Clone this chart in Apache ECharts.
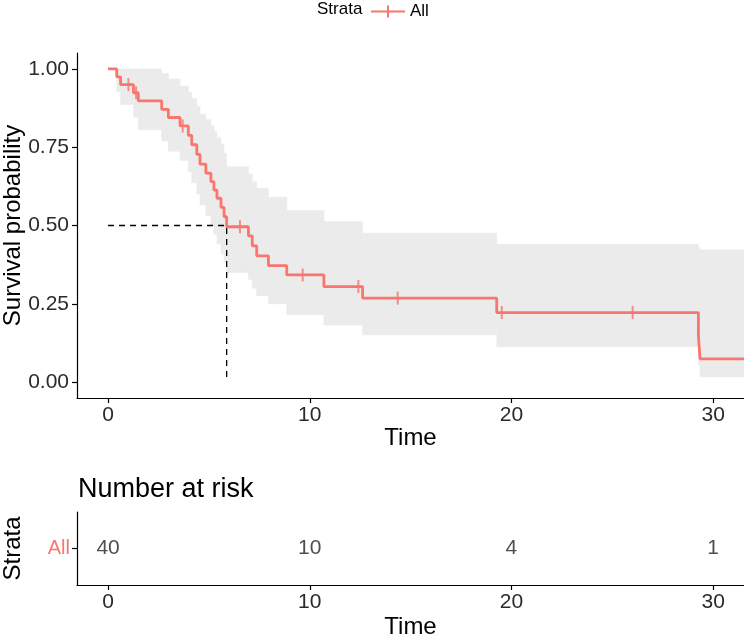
<!DOCTYPE html>
<html>
<head>
<meta http-equiv="Content-Type" content="text/html;charset=utf-8" />
<title>Survival curve</title>
<script src="https://cdn.jsdelivr.net/npm/echarts@6/dist/echarts.min.js"></script>
<style>
  html, body { margin: 0; padding: 0; background: #fff; }
  #chart { width: 744px; height: 637px; }
</style>
</head>
<body>
<div id="chart"></div>
<script>
  // Kaplan-Meier steps
  var times = [0, 0.43, 0.62, 1.26, 1.50, 2.66, 2.99, 3.57, 3.98, 4.15, 4.40, 4.56, 4.85, 5.10, 5.25, 5.40, 5.60, 5.75, 5.88, 6.96, 7.15, 7.37, 7.95, 8.86, 10.70, 12.62, 19.27, 29.27, 29.35, 32.0];
  var surv  = [1, 0.975, 0.950, 0.924, 0.898, 0.871, 0.845, 0.818, 0.788, 0.758, 0.727, 0.696, 0.667, 0.640, 0.613, 0.587, 0.558, 0.528, 0.496, 0.467, 0.435, 0.403, 0.372, 0.342, 0.305, 0.268, 0.222, 0.148, 0.074, 0.074];
  var lower = [1, 0.928, 0.886, 0.846, 0.806, 0.770, 0.737, 0.708, 0.673, 0.637, 0.601, 0.566, 0.531, 0.500, 0.472, 0.441, 0.410, 0.383, 0.350, 0.328, 0.300, 0.276, 0.250, 0.215, 0.182, 0.151, 0.113, 0.055, 0.017, 0.017];
  var upper = [1, 1, 1, 1, 1, 0.985, 0.968, 0.945, 0.925, 0.905, 0.880, 0.855, 0.838, 0.818, 0.800, 0.780, 0.760, 0.730, 0.688, 0.665, 0.640, 0.618, 0.590, 0.548, 0.512, 0.475, 0.440, 0.430, 0.422, 0.422];

  // censored observations
  var censorTimes = [1.01, 1.39, 3.70, 6.54, 9.65, 12.41, 14.36, 19.52, 26.01];
  var censorSurv  = [0.950, 0.924, 0.818, 0.496, 0.342, 0.305, 0.268, 0.222, 0.222];

  // median survival
  var medianTime = 5.88;
  var medianSurv = 0.5;

  // risk table
  var strata = ['All'];
  var riskTimes  = [0, 10, 20, 30];
  var riskCounts = [40, 10, 4, 1];

  var xTicks = [0, 10, 20, 30];
  var yTicks = [0, 0.25, 0.5, 0.75, 1];

  var red = '#F8766D';
  var font = 'Liberation Sans';
  var xMin = -1.54, xMax = 31.53;

  function xAxisFor(gridIndex, gap) {
    return {
      type: 'value', gridIndex: gridIndex, min: xMin, max: xMax,
      name: 'Time', nameLocation: 'middle', nameGap: gap, nameMoveOverlap: false,
      nameTextStyle: { fontFamily: font, fontSize: 24, color: '#000' },
      axisLine: { show: true, onZero: false, lineStyle: { color: '#000', width: 1.2 } },
      axisTick: { show: true, length: 5, customValues: xTicks, lineStyle: { color: '#000', width: 1.2 } },
      axisLabel: { customValues: xTicks, margin: 7, fontFamily: font, fontSize: 21, color: '#2b2b2b' },
      splitLine: { show: false }
    };
  }

  var option = {
    animation: false,
    textStyle: { fontFamily: font },
    title: {
      text: 'Number at risk', left: 73, top: 471,
      textStyle: { fontFamily: font, fontSize: 27, fontWeight: 'normal', color: '#000' }
    },
    legend: {
      data: ['All'], left: 366, top: -2, itemWidth: 34, itemHeight: 12, itemGap: 5,
      icon: 'path://M0,5H34V7H0Z M16,0H18V12H16Z',
      textStyle: { fontFamily: font, fontSize: 17, color: '#000' }
    },
    graphic: [{
      type: 'text', left: 317, top: 1,
      style: { text: 'Strata', fontFamily: font, fontSize: 17, fill: '#000' }
    }],
    grid: [
      { left: 77, right: 0, top: 53, height: 345, outerBoundsMode: 'none' },
      { left: 77, right: 0, top: 512, height: 73, outerBoundsMode: 'none' }
    ],
    xAxis: [xAxisFor(0, 28), xAxisFor(1, 30)],
    yAxis: [{
      type: 'value', gridIndex: 0, min: -0.051, max: 1.051,
      name: 'Survival probability', nameLocation: 'middle', nameGap: 52, nameMoveOverlap: false,
      nameTextStyle: { fontFamily: font, fontSize: 24, color: '#000' },
      axisLine: { show: true, onZero: false, lineStyle: { color: '#000', width: 1.2 } },
      axisTick: { show: true, length: 5, customValues: yTicks, lineStyle: { color: '#000', width: 1.2 } },
      axisLabel: { customValues: yTicks, margin: 8, fontFamily: font, fontSize: 21, color: '#2b2b2b',
        formatter: function (v) { return v.toFixed(2); } },
      splitLine: { show: false }
    }, {
      type: 'category', gridIndex: 1, data: strata,
      name: 'Strata', nameLocation: 'middle', nameGap: 52, nameMoveOverlap: false,
      nameTextStyle: { fontFamily: font, fontSize: 24, color: '#000' },
      axisLine: { show: true, onZero: false, lineStyle: { color: '#000', width: 1.2 } },
      axisTick: { show: true, length: 5, alignWithLabel: true, lineStyle: { color: '#000', width: 1.2 } },
      axisLabel: { margin: 7, fontFamily: font, fontSize: 20, color: red },
      splitLine: { show: false }
    }],
    series: [
      {
        // confidence band, one rectangle per step
        type: 'custom', xAxisIndex: 0, yAxisIndex: 0, z: 1, silent: true, clip: true,
        data: times.slice(0, -1).map(function (t, i) { return [t, times[i + 1], lower[i], upper[i]]; }),
        encode: { x: [0, 1], y: [2, 3] },
        renderItem: function (params, api) {
          var p1 = api.coord([api.value(0), api.value(3)]);
          var p2 = api.coord([api.value(1), api.value(2)]);
          return {
            type: 'rect',
            shape: { x: p1[0], y: p1[1], width: p2[0] - p1[0], height: p2[1] - p1[1] },
            style: { fill: '#EBEBEB', stroke: '#EBEBEB', lineWidth: 0.6 }
          };
        }
      },
      {
        type: 'line', xAxisIndex: 0, yAxisIndex: 0,
        data: [[0, medianSurv], [medianTime, medianSurv], [medianTime, 0]],
        symbol: 'none', z: 2,
        lineStyle: { color: '#000', width: 1.3, type: [6, 5] }
      },
      {
        name: 'All', type: 'line', xAxisIndex: 0, yAxisIndex: 0, step: 'end',
        data: times.map(function (t, i) { return [t, surv[i]]; }),
        symbol: 'none', z: 3, itemStyle: { color: red },
        lineStyle: { color: red, width: 2.8 }
      },
      {
        type: 'scatter', xAxisIndex: 0, yAxisIndex: 0,
        data: censorTimes.map(function (t, i) { return [t, censorSurv[i]]; }),
        symbol: 'rect', symbolSize: [2, 13], z: 4, itemStyle: { color: red }
      },
      {
        type: 'scatter', xAxisIndex: 1, yAxisIndex: 1,
        data: riskTimes.map(function (t, i) { return [t, 0, riskCounts[i]]; }),
        symbolSize: 1, itemStyle: { color: 'rgba(0,0,0,0)' },
        label: { show: true, position: 'inside', fontFamily: font, fontSize: 21, color: '#222',
          formatter: function (p) { return p.data[2]; } }
      }
    ]
  };

  var chart = echarts.init(document.getElementById('chart'));
  chart.setOption(option);
</script>
</body>
</html>
